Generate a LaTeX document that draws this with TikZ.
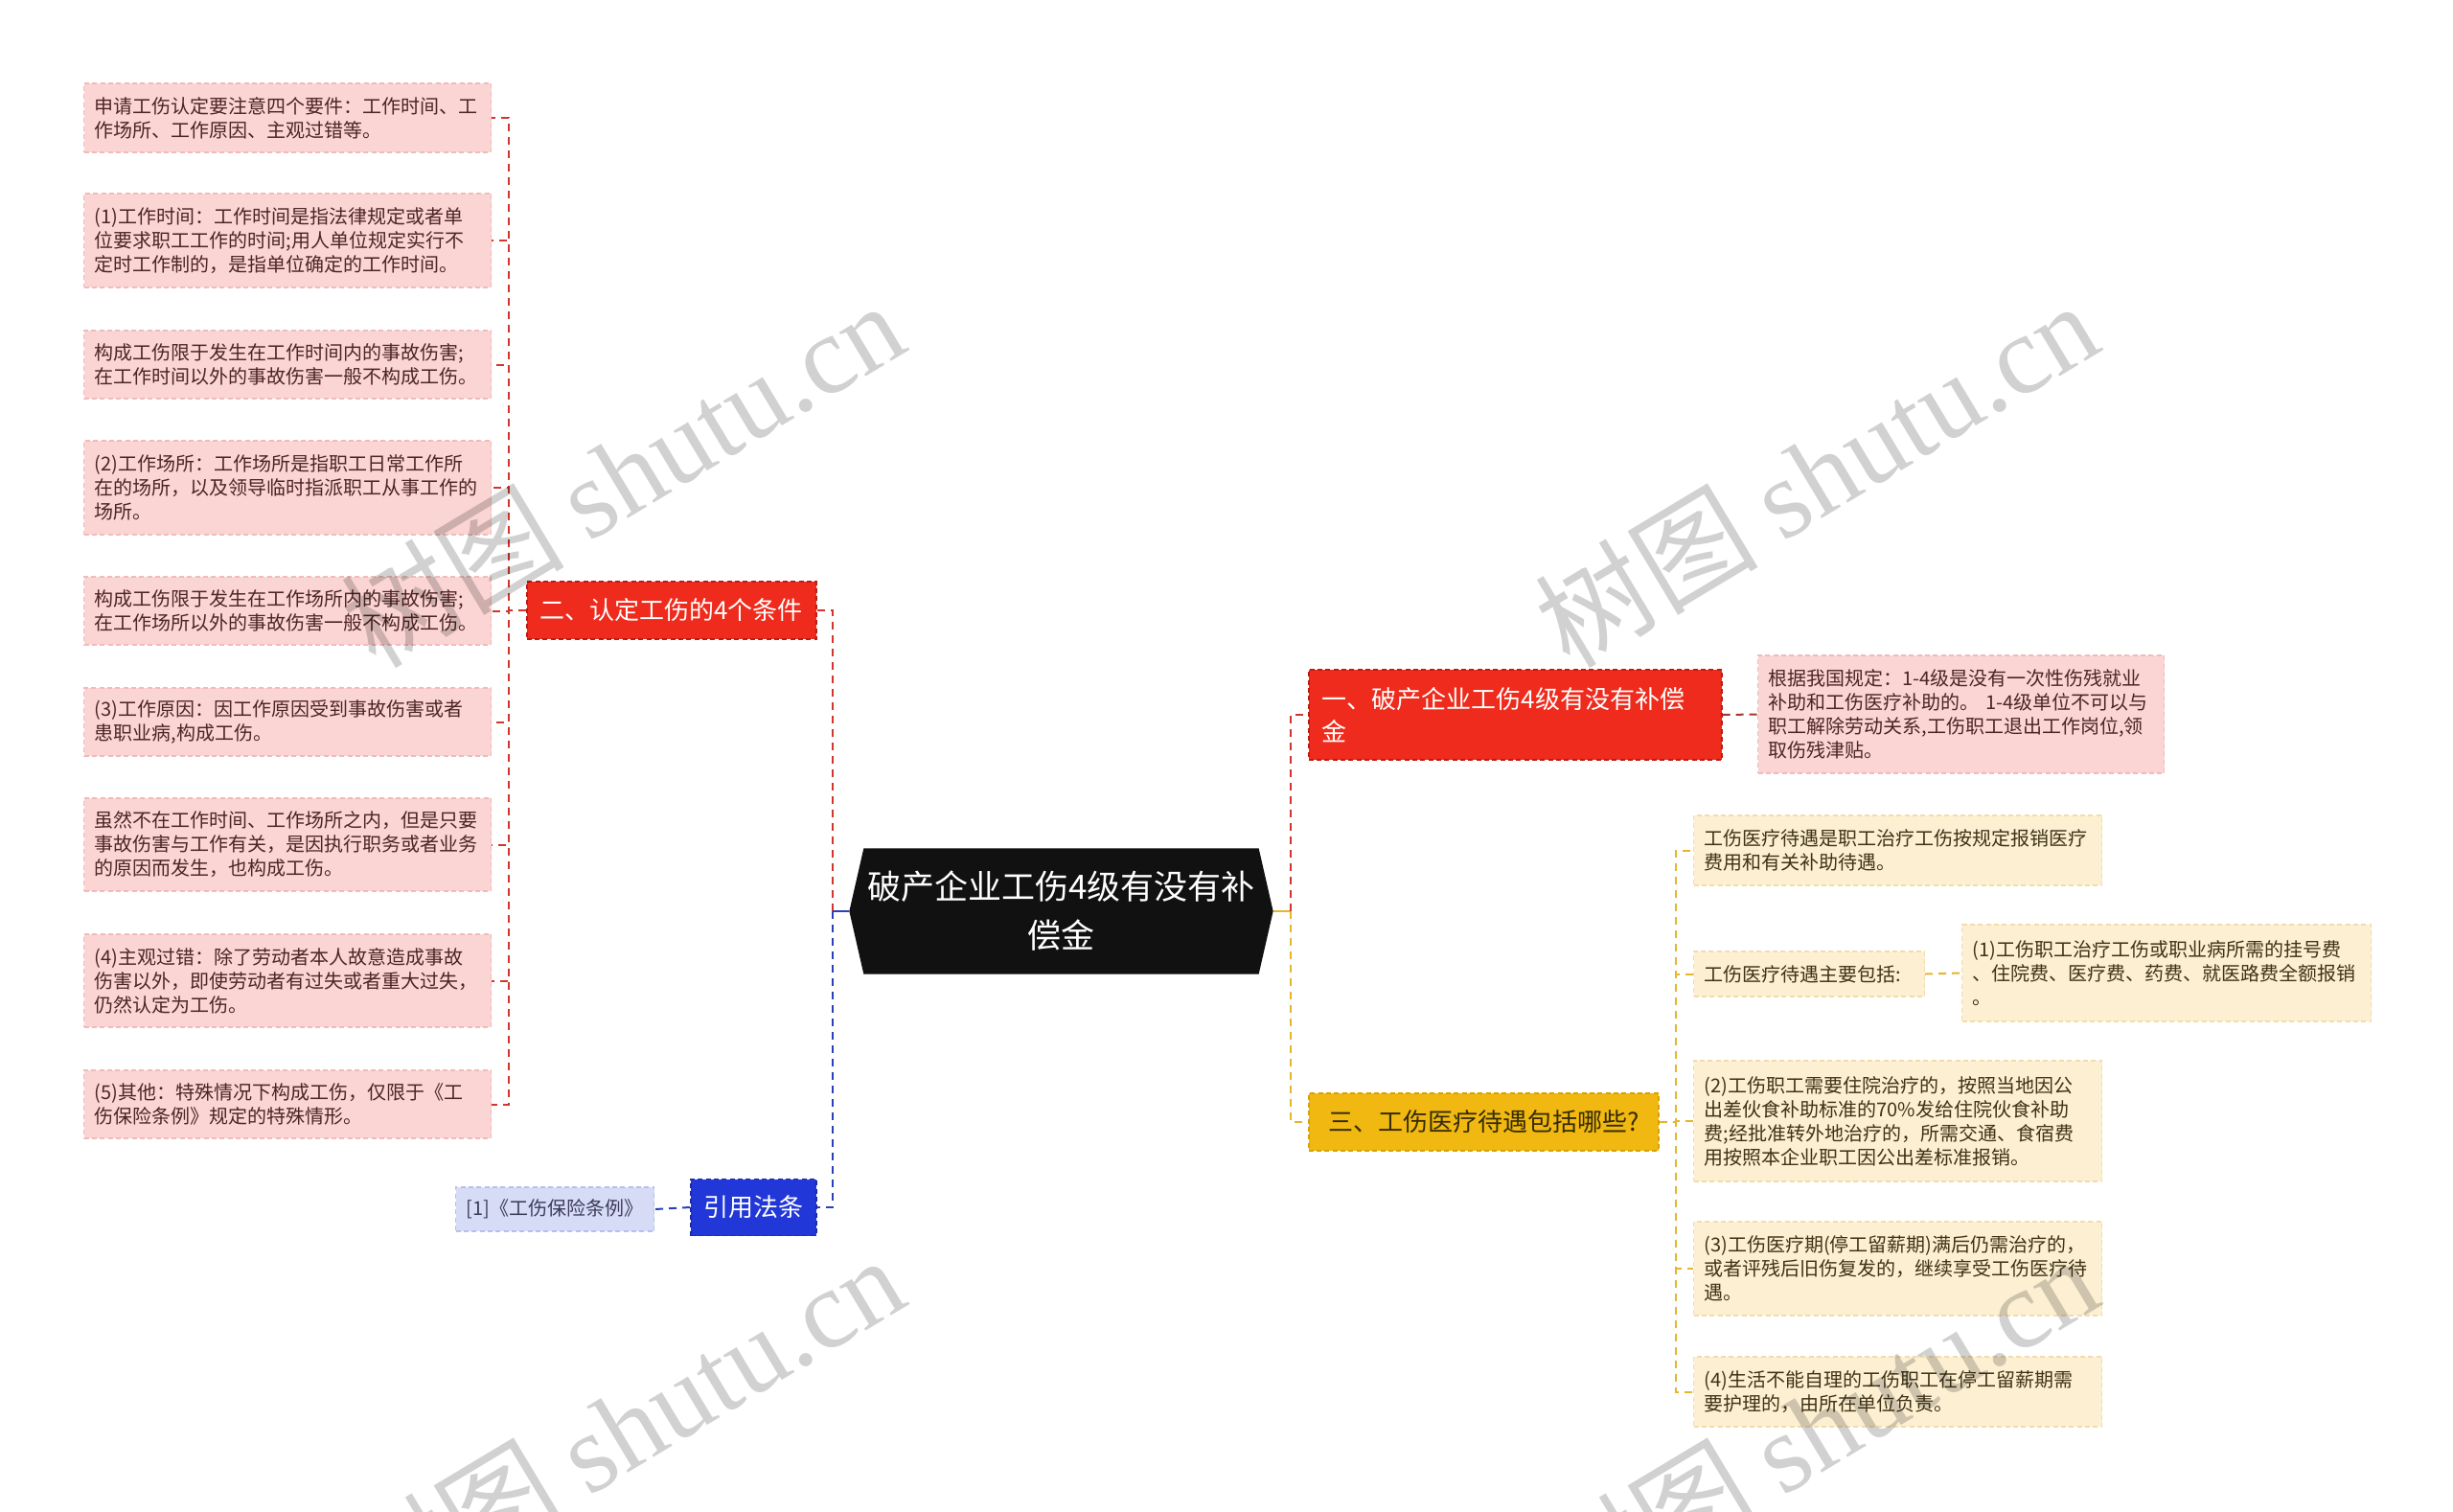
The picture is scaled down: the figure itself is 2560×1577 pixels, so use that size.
\documentclass[tikz,border=0pt]{standalone}
\usepackage{fontspec}
\setmainfont{Noto Sans CJK SC}
\newfontfamily\wmlatin{Liberation Serif}
\usetikzlibrary{backgrounds}
\definecolor{pinkF}{HTML}{FAD5D3}
\definecolor{pinkB}{HTML}{F0BBB8}
\definecolor{pinkT}{HTML}{4E2424}
\definecolor{redF}{HTML}{EE2B1C}
\definecolor{redB}{HTML}{BE1C12}
\definecolor{redL}{HTML}{D2352B}
\definecolor{redD}{HTML}{A8352C}
\definecolor{blueF}{HTML}{2137D8}
\definecolor{blueB}{HTML}{1A2AA8}
\definecolor{blueL}{HTML}{2A40B8}
\definecolor{lavF}{HTML}{D6DBF6}
\definecolor{lavB}{HTML}{B9C0EC}
\definecolor{lavT}{HTML}{3C3C5A}
\definecolor{yelF}{HTML}{F0B810}
\definecolor{yelB}{HTML}{D9A200}
\definecolor{yelL}{HTML}{E6B52A}
\definecolor{creamF}{HTML}{FCEFD2}
\definecolor{creamB}{HTML}{F2DDAA}
\definecolor{creamT}{HTML}{3E3415}
\definecolor{darkT}{HTML}{352B05}
\definecolor{rootF}{HTML}{111111}
\begin{document}
\begin{tikzpicture}[x=0.3pt,y=-0.3pt,
  cbox/.style={rectangle, inner xsep=3.3pt, inner ysep=0pt, align=left, anchor=west,
    line width=0.35pt, dash pattern=on 1.5pt off 1pt},
  leafL/.style={cbox, fill=pinkF, draw=pinkB, text=pinkT, font=\fontsize{6}{7.5}\selectfont, text width=120.9pt},
  leafY/.style={cbox, fill=creamF, draw=creamB, text=creamT, font=\fontsize{6}{7.5}\selectfont, text width=121.2pt},
  topic/.style={rectangle, inner sep=0pt, line width=0.45pt, dash pattern=on 1.5pt off 1pt,
    font=\fontsize{7.8}{10.2}\selectfont, anchor=west},
  conn/.style={line width=0.6pt, dash pattern=on 2.4pt off 1.8pt},
  wm/.style={rotate=31, anchor=base west, inner sep=0pt, text=black, text opacity=0.18,
    font=\fontsize{35}{35}\selectfont}
]
\begin{scope}[on background layer]
\fill[white] (0,0) rectangle (2560,1577);
\end{scope}
\useasboundingbox (0,0) rectangle (2560,1577);

% root
\node[font=\fontsize{10.5}{15.3}\selectfont, text=white, align=center, minimum width=132.3pt,
  minimum height=39pt, inner sep=0pt] (root) at (1107.5,951) {破产企业工伤4级有没有补\\偿金};
\begin{scope}[on background layer]
\fill[rootF] (root.west) -- ([xshift=4.5pt]root.north west) -- ([xshift=-4.5pt]root.north east)
  -- (root.east) -- ([xshift=-4.5pt]root.south east) -- ([xshift=4.5pt]root.south west) -- cycle;
\end{scope}

% left branch topic
\node[topic, fill=redF, draw=redB, text=white, minimum width=90.6pt, minimum height=18pt] (n2) at (549,637) {二、认定工伤的4个条件};
\node[topic, fill=blueF, draw=blueB, text=white, minimum width=39.3pt, minimum height=17.7pt] (n4) at (720,1260) {引用法条};
\node[cbox, fill=lavF, draw=lavB, text=lavT, font=\fontsize{6}{7.5}\selectfont, minimum width=62.1pt,
  minimum height=13.8pt, align=center, inner xsep=0pt] (r1) at (475,1262) {[1]《工伤保险条例》};

% left leaves
\node[leafL, minimum height=21.6pt] (L1) at (87,123) {申请工伤认定要注意四个要件：工作时间、工\\作场所、工作原因、主观过错等。};
\node[leafL, minimum height=29.4pt] (L2) at (87,251) {(1)工作时间：工作时间是指法律规定或者单\\位要求职工工作的时间;用人单位规定实行不\\定时工作制的，是指单位确定的工作时间。};
\node[leafL, minimum height=21.3pt] (L3) at (87,380.5) {构成工伤限于发生在工作时间内的事故伤害;\\在工作时间以外的事故伤害一般不构成工伤。};
\node[leafL, minimum height=29.4pt] (L4) at (87,509) {(2)工作场所：工作场所是指职工日常工作所\\在的场所，以及领导临时指派职工从事工作的\\场所。};
\node[leafL, minimum height=21.3pt] (L5) at (87,637.5) {构成工伤限于发生在工作场所内的事故伤害;\\在工作场所以外的事故伤害一般不构成工伤。};
\node[leafL, minimum height=21.3pt] (L6) at (87,753.5) {(3)工作原因：因工作原因受到事故伤害或者\\患职业病,构成工伤。};
\node[leafL, minimum height=29.1pt] (L7) at (87,881.5) {虽然不在工作时间、工作场所之内，但是只要\\事故伤害与工作有关，是因执行职务或者业务\\的原因而发生，也构成工伤。};
\node[leafL, minimum height=29.1pt] (L8) at (87,1023.5) {(4)主观过错：除了劳动者本人故意造成事故\\伤害以外，即使劳动者有过失或者重大过失，\\仍然认定为工伤。};
\node[leafL, minimum height=21.3pt] (L9) at (87,1152.5) {(5)其他：特殊情况下构成工伤，仅限于《工\\伤保险条例》规定的特殊情形。};

% right topics
\node[topic, fill=redF, draw=redB, text=white, align=left, text width=120.9pt, inner xsep=4.2pt,
  minimum height=28.2pt] (n1) at (1365,746) {一、破产企业工伤4级有没有补偿\\金};
\node[leafL, text width=120.6pt, minimum height=36.9pt] (R1) at (1834,745.5) {根据我国规定：1-4级是没有一次性伤残就业\\补助和工伤医疗补助的。 1-4级单位不可以与\\职工解除劳动关系,工伤职工退出工作岗位,领\\取伤残津贴。};
\node[topic, fill=yelF, draw=yelB, text=darkT, minimum width=109.5pt, minimum height=18pt] (n3) at (1365,1171) {三、工伤医疗待遇包括哪些?};

% right leaves
\node[leafY, minimum height=21.9pt] (c1) at (1767,887.5) {工伤医疗待遇是职工治疗工伤按规定报销医疗\\费用和有关补助待遇。};
\node[leafY, text width=65.7pt, minimum height=14.1pt] (c2) at (1767,1016.5) {工伤医疗待遇主要包括:};
\node[leafY, text width=121.5pt, minimum height=30.3pt] (c2a) at (2047,1015.5) {(1)工伤职工治疗工伤或职业病所需的挂号费\\、住院费、医疗费、药费、就医路费全额报销\\。};
\node[leafY, minimum height=37.8pt] (c3) at (1767,1170) {(2)工伤职工需要住院治疗的，按照当地因公\\出差伙食补助标准的70\%发给住院伙食补助\\费;经批准转外地治疗的，所需交通、食宿费\\用按照本企业职工因公出差标准报销。};
\node[leafY, minimum height=29.4pt] (c4) at (1767,1324) {(3)工伤医疗期(停工留薪期)满后仍需治疗的，\\或者评残后旧伤复发的，继续享受工伤医疗待\\遇。};
\node[leafY, minimum height=21.9pt] (c5) at (1767,1452.5) {(4)生活不能自理的工伤职工在停工留薪期需\\要护理的，由所在单位负责。};

% connectors left
\coordinate (jL) at (531,637);
\foreach \n in {L1,L2,L3,L4,L5,L6,L7,L8,L9}
  \draw[conn, redL] (n2.west) -- (jL) |- (\n.east);
\coordinate (jc) at (869,951);
\draw[conn, redL] (jc) |- (n2.east);
\draw[conn, blueL] (jc) |- (n4.east);
\draw[line width=0.6pt, blueL] (root.west) -- (jc);
\draw[conn, blueL] (n4.west) -- (r1.east);

% connectors right
\coordinate (jr) at (1347,951);
\draw[line width=0.6pt, yelL] (root.east) -- (jr);
\draw[conn, redL] (jr) |- (n1.west);
\draw[conn, yelL] (jr) |- (n3.west);
\draw[conn, redD] (n1.east) -- (R1.west);
\coordinate (jy) at (1749,1171);
\foreach \n in {c1,c2,c3,c4,c5}
  \draw[conn, yelL] (n3.east) -- (jy) |- (\n.west);
\draw[conn, yelL] (c2.east) -- (c2a.west);

% watermarks
\begin{scope}
\clip (0,0) rectangle (2560,1577);
\node[wm] (wm1) at (392,700) {树图 {\wmlatin shutu.cn}};
\node[wm] (wm2) at (1638,700) {树图 {\wmlatin shutu.cn}};
\node[wm] (wm3) at (392,1696) {树图 {\wmlatin shutu.cn}};
\node[wm] (wm4) at (1638,1696) {树图 {\wmlatin shutu.cn}};
\end{scope}
\end{tikzpicture}
\end{document}
